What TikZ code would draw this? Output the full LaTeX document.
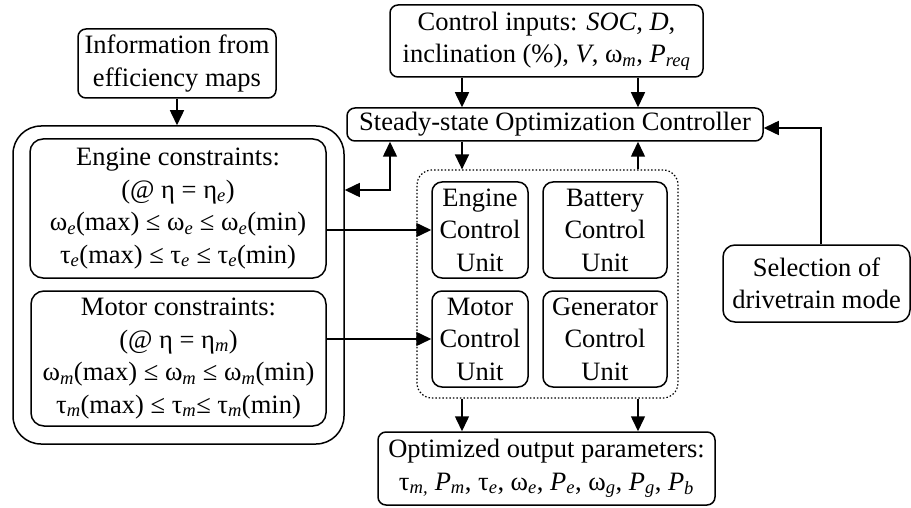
\documentclass[tikz,border=0pt]{standalone}
\usepackage{fontspec}
\setmainfont{Liberation Serif}
\usetikzlibrary{arrows.meta}
\newcommand{\sbs}[1]{\textsubscript{\itshape #1}}
\tikzset{
  box/.style={draw, line width=1.5pt, rounded corners=8pt, align=center, inner sep=0pt,
    font=\fontsize{26.5}{32.5}\selectfont},
  arr/.style={line width=1.5pt, -{Triangle[length=15pt,width=14pt]}},
  darr/.style={line width=1.5pt, {Triangle[length=15pt,width=14pt]}-{Triangle[length=15pt,width=14pt]}},
}
\begin{document}
\begin{tikzpicture}[x=1pt,y=-1pt]
\useasboundingbox (0,0) rectangle (911,508);
% boxes
\node[box, minimum width=198pt, minimum height=69pt] (info) at (177,63.5) {Information from\\efficiency maps};
\node[box, minimum width=313pt, minimum height=72pt] (ctrl) at (546.5,41) {Control inputs: \textit{SOC}, \textit{D},\\inclination (\%), \textit{V}, ω\sbs{m}, \textit{P}\sbs{req}};
\node[box, minimum width=416pt, minimum height=33pt] (soc) at (555,124.5) {Steady-state Optimization Controller};
\node[box, rounded corners=28pt, minimum width=331pt, minimum height=318pt] (outer) at (178.5,285) {};
\node[box, rounded corners=13pt, minimum width=296pt, minimum height=139pt] (eng) at (178,208.5)
  {Engine constraints:\\(@ η = η\sbs{e})\\ω\sbs{e}(max) ≤ ω\sbs{e} ≤ ω\sbs{e}(min)\\τ\sbs{e}(max) ≤ τ\sbs{e} ≤ τ\sbs{e}(min)};
\node[box, rounded corners=13pt, minimum width=295pt, minimum height=135pt] (mot) at (178.5,358.5)
  {Motor constraints:\\(@ η = η\sbs{m})\\ω\sbs{m}(max) ≤ ω\sbs{m} ≤ ω\sbs{m}(min)\\τ\sbs{m}(max) ≤ τ\sbs{m}≤ τ\sbs{m}(min)};
\node[box, dotted, line width=1.2pt, rounded corners=15pt, minimum width=261pt, minimum height=228pt] (units) at (547.5,284) {};
\node[box, rounded corners=10pt, minimum width=96pt, minimum height=96pt] (ecu) at (480,230) {Engine\\Control\\Unit};
\node[box, rounded corners=10pt, minimum width=124pt, minimum height=96pt] (bcu) at (605,230) {Battery\\Control\\Unit};
\node[box, rounded corners=10pt, minimum width=96pt, minimum height=96pt] (mcu) at (480,339) {Motor\\Control\\Unit};
\node[box, rounded corners=10pt, minimum width=124pt, minimum height=96pt] (gcu) at (605,339) {Generator\\Control\\Unit};
\node[box, minimum width=337pt, minimum height=73pt] (out) at (546.5,468.5) {Optimized output parameters:\\τ\sbs{m,} \textit{P}\sbs{m}, τ\sbs{e}, ω\sbs{e}, \textit{P}\sbs{e}, ω\sbs{g}, \textit{P}\sbs{g}, \textit{P}\sbs{b}};
\node[box, rounded corners=12pt, minimum width=187pt, minimum height=77pt] (sel) at (816.5,283.5) {Selection of\\drivetrain mode};
% connectors
\draw[arr] (info.south) -- (info.south |- outer.north);
\draw[arr] (ctrl.south -| 462,0) -- (soc.north -| 462,0);
\draw[arr] (ctrl.south -| 638,0) -- (soc.north -| 638,0);
\draw[arr] (soc.south -| 462,0) -- (units.north -| 462,0);
\draw[arr] (units.north -| 638,0) -- (soc.south -| 638,0);
\draw[darr] (soc.south -| 390,0) |- (outer.east |- 0,190);
\draw[arr] (eng.east |- ecu.west) -- (ecu.west);
\draw[arr] (mot.east |- mcu.west) -- (mcu.west);
\draw[arr] (units.south -| 462,0) -- (out.north -| 462,0);
\draw[arr] (units.south -| 638,0) -- (out.north -| 638,0);
\draw[arr] (sel.north -| 821,0) |- (soc.east |- 0,128);
\end{tikzpicture}
\end{document}
